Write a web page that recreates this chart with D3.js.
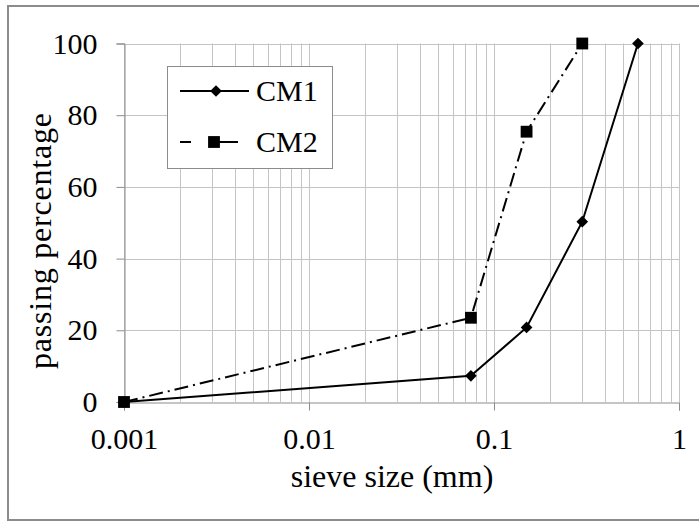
<!DOCTYPE html>
<html>
<head>
<meta charset="utf-8">
<script src="https://cdn.jsdelivr.net/npm/d3@7"></script>
<style>
  body { margin: 0; background: #fff; }
  svg text { font-family: "Liberation Serif", "Times New Roman", serif; fill: #000; }
</style>
</head>
<body>
<svg width="699" height="521"></svg>
<script>
// data
const cm1Sizes = [0.001, 0.075, 0.15, 0.3, 0.6];
const cm1Passing = [0, 7.3, 20.8, 50.3, 100];
const cm2Sizes = [0.001, 0.075, 0.15, 0.3];
const cm2Passing = [0, 23.5, 75.4, 100];
const xTicks = [0.001, 0.01, 0.1, 1];
const xTickLabels = ['0.001', '0.01', '0.1', '1'];
const yTicks = [0, 20, 40, 60, 80, 100];

const serif = '"Liberation Serif", "Times New Roman", serif';
const svg = d3.select('svg');

// outer frame
svg.append('rect')
    .attr('x', 8).attr('y', 6)
    .attr('width', 700).attr('height', 514)
    .attr('fill', 'none')
    .attr('stroke', '#8c8c8c')
    .attr('stroke-width', 2);

const plotLeft = 124, plotRight = 679, plotTop = 43.5, plotBottom = 402;

const xScale = d3.scaleLog().domain([0.001, 1]).range([plotLeft, plotRight]);
const yScale = d3.scaleLinear().domain([0, 100]).range([plotBottom, plotTop]);

// minor + major vertical grid
let gridX = [];
for (let e = -3; e < 0; e++) {
    for (let m = 1; m < 10; m++) gridX.push(m * Math.pow(10, e));
}
gridX.push(1);

const grid = svg.append('g').attr('stroke', '#c4c4c4').attr('stroke-width', 1);
grid.selectAll('line.v')
    .data(gridX)
    .enter()
    .append('line')
    .attr('x1', d => Math.round(xScale(d)) + 0.5)
    .attr('x2', d => Math.round(xScale(d)) + 0.5)
    .attr('y1', plotTop)
    .attr('y2', plotBottom);
grid.selectAll('line.h')
    .data(yTicks.slice(1))
    .enter()
    .append('line')
    .attr('x1', plotLeft)
    .attr('x2', plotRight)
    .attr('y1', d => Math.round(yScale(d)) + 0.5)
    .attr('y2', d => Math.round(yScale(d)) + 0.5);

// axes
const yAxis = svg.append('g')
    .attr('transform', `translate(${Math.round(plotLeft) + 0.5},0)`)
    .call(d3.axisLeft(yScale).tickValues(yTicks).tickSize(8).tickPadding(19));
yAxis.select('.domain').attr('stroke', '#8c8c8c');
yAxis.selectAll('.tick line').attr('stroke', '#8c8c8c');
yAxis.selectAll('.tick text').style('font-size', '30px').style('font-family', serif);

const xAxis = svg.append('g')
    .attr('transform', `translate(0,${Math.round(plotBottom) + 0.5})`)
    .call(d3.axisBottom(xScale).tickValues(xTicks).tickSize(8).tickPadding(17)
        .tickFormat((d, i) => xTickLabels[i]));
xAxis.select('.domain').attr('stroke', '#8c8c8c');
xAxis.selectAll('.tick line').attr('stroke', '#8c8c8c');
xAxis.selectAll('.tick text').style('font-size', '30px').style('font-family', serif);

// axis titles
svg.append('text')
    .attr('x', 392)
    .attr('y', 487)
    .attr('text-anchor', 'middle')
    .style('font-size', '32px')
    .text('sieve size (mm)');

svg.append('text')
    .attr('transform', 'translate(51,241) rotate(-90)')
    .attr('text-anchor', 'middle')
    .style('font-size', '32px')
    .attr('textLength', 256)
    .text('passing percentage');

// series
const line = d3.line().x(d => xScale(d[0])).y(d => yScale(d[1]));
const cm1 = cm1Sizes.map((s, i) => [s, cm1Passing[i]]);
const cm2 = cm2Sizes.map((s, i) => [s, cm2Passing[i]]);

svg.append('path')
    .datum(cm2)
    .attr('d', line)
    .attr('fill', 'none')
    .attr('stroke', '#000')
    .attr('stroke-width', 2)
    .attr('stroke-dasharray', '14,5,2,5');

svg.append('path')
    .datum(cm1)
    .attr('d', line)
    .attr('fill', 'none')
    .attr('stroke', '#000')
    .attr('stroke-width', 2);

const diamond = d3.symbol().type(d3.symbolSquare).size(68);
const square = d3.symbol().type(d3.symbolSquare).size(140);

svg.selectAll('path.cm1')
    .data(cm1)
    .enter()
    .append('path')
    .attr('d', diamond)
    .attr('transform', d => `translate(${xScale(d[0])},${yScale(d[1])}) rotate(45)`)
    .attr('fill', '#000');

svg.selectAll('path.cm2')
    .data(cm2)
    .enter()
    .append('path')
    .attr('d', square)
    .attr('transform', d => `translate(${xScale(d[0])},${yScale(d[1])})`)
    .attr('fill', '#000');

// legend
const legend = svg.append('g');
legend.append('rect')
    .attr('x', 167.5).attr('y', 66.5)
    .attr('width', 165).attr('height', 102)
    .attr('fill', '#fff')
    .attr('stroke', '#8c8c8c');

legend.append('line')
    .attr('x1', 180).attr('x2', 249).attr('y1', 91).attr('y2', 91)
    .attr('stroke', '#000').attr('stroke-width', 2);
legend.append('path')
    .attr('d', diamond)
    .attr('transform', 'translate(216,91) rotate(45)');
legend.append('line')
    .attr('x1', 180).attr('x2', 238).attr('y1', 142).attr('y2', 142)
    .attr('stroke', '#000').attr('stroke-width', 2)
    .attr('stroke-dasharray', '11,28,19');
legend.append('path')
    .attr('d', square)
    .attr('transform', 'translate(214,142)');

legend.append('text').attr('x', 256).attr('y', 101).style('font-size', '30px').text('CM1');
legend.append('text').attr('x', 256).attr('y', 152).style('font-size', '30px').text('CM2');
</script>
</body>
</html>
